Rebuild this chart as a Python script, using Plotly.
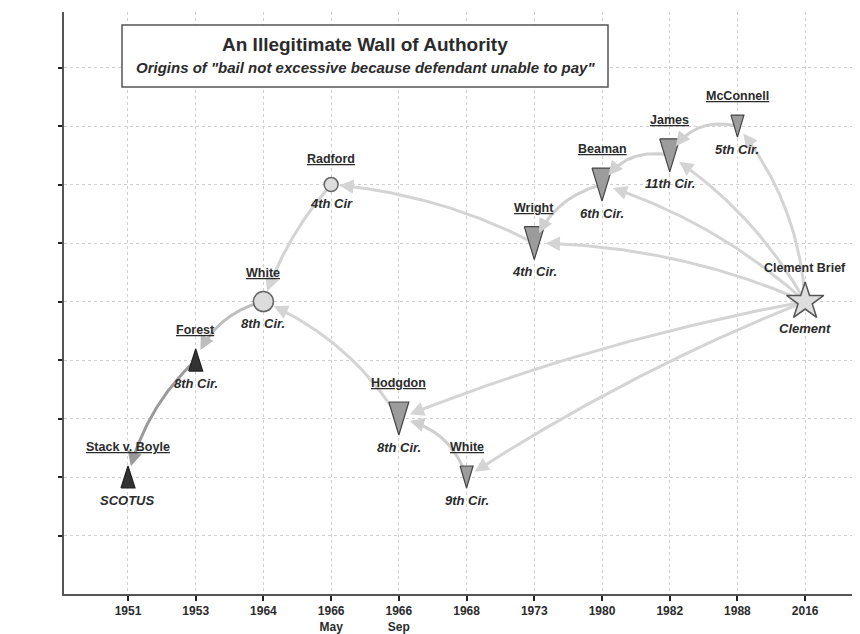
import numpy as np
import plotly.graph_objects as go

# ---------------- data ----------------
categories = ["1951", "1953", "1964", "1966<br>May", "1966<br>Sep", "1968",
              "1973", "1980", "1982", "1988", "2016"]
case_names = ["Stack v. Boyle", "Forest", "White", "Radford", "Hodgdon", "White",
              "Wright", "Beaman", "James", "McConnell", "Clement Brief"]
courts = ["SCOTUS", "8th Cir.", "8th Cir.", "4th Cir", "8th Cir.", "9th Cir.",
          "4th Cir.", "6th Cir.", "11th Cir.", "5th Cir.", "Clement"]
levels = [2, 4, 5, 7, 3, 2, 6, 7, 7.5, 8, 5]
edge_sources = [1, 2, 3, 4, 6, 5, 7, 8, 9, 10, 10, 10, 10, 10, 10]
edge_targets = [0, 1, 2, 2, 3, 4, 6, 7, 8, 4, 5, 6, 7, 8, 9]
y_ticks = [1, 2, 3, 4, 5, 6, 7, 8, 9]

# ---------------- styles ----------------
node_shape = ["tri-up", "tri-up", "circle", "circle", "tri-down", "tri-down",
              "tri-down", "tri-down", "tri-down", "tri-down", "star"]
node_w = [14, 14, 20, 14, 20, 13, 20, 20, 20, 13, 28]
node_h = [22, 22, 20, 14, 33, 22, 33, 33, 33, 22, 30]
node_fill = ["#333333", "#333333", "#dcdcdc", "#dcdcdc", "#9c9c9c", "#9c9c9c",
             "#9c9c9c", "#9c9c9c", "#9c9c9c", "#9c9c9c", "#dedede"]
node_line = ["#222222", "#222222", "#666666", "#666666", "#444444", "#444444",
             "#444444", "#444444", "#444444", "#444444", "#555555"]
arrive_r = [11, 11, 11, 8, 11, 9, 11, 11, 11, 9, 14]
edge_bend = [-0.15, -0.25, -0.10, -0.16, -0.10, -0.30, -0.25, -0.35, -0.37,
             -0.05, -0.05, -0.10, -0.11, -0.12, -0.16]
edge_color = ["#9a9a9a", "#bdbdbd", "#d4d4d4", "#d4d4d4", "#d4d4d4", "#cfcfcf",
              "#d0d0d0", "#d0d0d0", "#d0d0d0", "#d4d4d4", "#d4d4d4", "#d4d4d4",
              "#d4d4d4", "#d4d4d4", "#d4d4d4"]

FONT = "Liberation Sans, Arial, sans-serif"
TXT = "#2b2b2b"

# page is 860x634, body margin of the html page is 8px
OFF = 8
W, H = 860 - OFF, 634 - OFF
ML, MR, MT, MB = 64 - OFF, 0, 12 - OFF, 40
XR = [-0.945, 10.81]
YR = [0, 9.95]
pw, ph = W - ML - MR, H - MT - MB
SX = pw / (XR[1] - XR[0])
SY = ph / (YR[1] - YR[0])

xs = list(range(len(categories)))


def to_px(x, y):
    return np.array([(x - XR[0]) * SX, (y - YR[0]) * SY])


def from_px(p):
    return p[0] / SX + XR[0], p[1] / SY + YR[0]


def page_to_paper(px, py):
    # reference-image pixel -> paper coords
    return (px - OFF - ML) / pw, (H - MB - (py - OFF)) / ph


fig = go.Figure()
annotations = []

# ---------------- curved arrows ----------------
for s, t, bend, col in zip(edge_sources, edge_targets, edge_bend, edge_color):
    p0 = to_px(xs[s], levels[s])
    p2 = to_px(xs[t], levels[t])
    d = p2 - p0
    L = np.hypot(*d)
    n = np.array([-d[1], d[0]]) / L
    c = (p0 + p2) / 2 + bend * L * n
    tt = np.linspace(0, 1, 400)
    pts = ((1 - tt) ** 2)[:, None] * p0 + (2 * (1 - tt) * tt)[:, None] * c + (tt ** 2)[:, None] * p2
    dist = np.hypot(*(pts - p2).T)
    r = arrive_r[t]
    idx_head = np.where(dist >= r)[0][-1]
    idx_line = np.where(dist >= r + 6)[0]
    line_pts = pts[idx_line]
    lx, ly = zip(*[from_px(p) for p in line_pts])
    fig.add_trace(go.Scatter(x=lx, y=ly, mode="lines",
                             line=dict(color=col, width=3),
                             hoverinfo="skip", showlegend=False))
    th = tt[idx_head]
    tang = 2 * (1 - th) * (c - p0) + 2 * th * (p2 - c)
    tang = tang / np.hypot(*tang)
    hx, hy = from_px(pts[idx_head])
    annotations.append(dict(x=hx, y=hy, xref="x", yref="y", text="",
                            showarrow=True, arrowhead=2, arrowsize=1.1,
                            arrowwidth=2.6, arrowcolor=col, standoff=0,
                            ax=-tang[0] * 14, ay=tang[1] * 14))

# ---------------- nodes ----------------
for i in range(len(case_names)):
    x, y = xs[i], levels[i]
    shp = node_shape[i]
    if shp in ("tri-up", "tri-down"):
        hw = node_w[i] / 2 / SX
        hh = node_h[i] / 2 / SY
        if shp == "tri-down":
            px_ = [x - hw, x + hw, x, x - hw]
            py_ = [y + hh, y + hh, y - hh, y + hh]
        else:
            px_ = [x - hw, x + hw, x, x - hw]
            py_ = [y - hh, y - hh, y + hh, y - hh]
        fig.add_trace(go.Scatter(x=px_, y=py_, mode="lines", fill="toself",
                                 fillcolor=node_fill[i],
                                 line=dict(color=node_line[i], width=1.2),
                                 hoverinfo="skip", showlegend=False))
    else:
        fig.add_trace(go.Scatter(x=[x], y=[y], mode="markers",
                                 marker=dict(symbol=shp, size=node_w[i],
                                             color=node_fill[i],
                                             line=dict(color=node_line[i], width=1.5)),
                                 hoverinfo="skip", showlegend=False))
    name = case_names[i]
    name_txt = f"<b>{name}</b>" if name == "Clement Brief" else f"<b><u>{name}</u></b>"
    annotations.append(dict(x=x, y=y, xref="x", yref="y", text=name_txt,
                            showarrow=False, yshift=node_h[i] / 2 + 19,
                            xanchor="center", yanchor="middle",
                            font=dict(family=FONT, size=12.5, color=TXT)))
    annotations.append(dict(x=x, y=y, xref="x", yref="y",
                            text=f"<b><i>{courts[i]}</i></b>",
                            showarrow=False, yshift=-(node_h[i] / 2 + 12),
                            xanchor="center", yanchor="middle",
                            font=dict(family=FONT, size=13, color=TXT)))

# ---------------- title box ----------------
bx0, by1 = page_to_paper(122, 25)
bx1, by0 = page_to_paper(608, 87)
shapes = [dict(type="rect", xref="paper", yref="paper",
               x0=bx0, x1=bx1, y0=by0, y1=by1,
               line=dict(color="#555555", width=1.5), fillcolor="white",
               layer="above")]
tx, ty = page_to_paper(365, 44)
sx_, sy_ = page_to_paper(365, 68)
annotations.append(dict(x=tx, y=ty, xref="paper", yref="paper",
                        xanchor="center", yanchor="middle",
                        text="<b>An Illegitimate Wall of Authority</b>", showarrow=False,
                        font=dict(family=FONT, size=19, color=TXT)))
annotations.append(dict(x=sx_, y=sy_, xref="paper", yref="paper",
                        xanchor="center", yanchor="middle",
                        text="<b><i>Origins of \"bail not excessive because defendant unable to pay\"</i></b>",
                        showarrow=False, font=dict(family=FONT, size=15, color=TXT)))

fig.update_layout(
    width=W, height=H,
    margin=dict(l=ML, r=MR, t=MT, b=MB, autoexpand=False),
    paper_bgcolor="white", plot_bgcolor="white",
    showlegend=False,
    annotations=annotations,
    shapes=shapes,
    xaxis=dict(range=XR, tickmode="array", tickvals=xs,
               ticktext=[f"<b>{c}</b>" for c in categories],
               automargin=False,
               showgrid=True, gridcolor="#d0d0d0", griddash="dot", gridwidth=1,
               zeroline=False, showline=True, linecolor="#555555", linewidth=2,
               ticks="outside", ticklen=5, tickwidth=2, tickcolor="#222222",
               tickfont=dict(family=FONT, size=12, color=TXT)),
    yaxis=dict(range=YR, tickmode="array", tickvals=y_ticks, showticklabels=False,
               automargin=False,
               showgrid=True, gridcolor="#d0d0d0", griddash="dot", gridwidth=1,
               zeroline=False, showline=True, linecolor="#555555", linewidth=2,
               ticks="outside", ticklen=4, tickwidth=2, tickcolor="#222222"),
)

fig.write_html("out.html")
